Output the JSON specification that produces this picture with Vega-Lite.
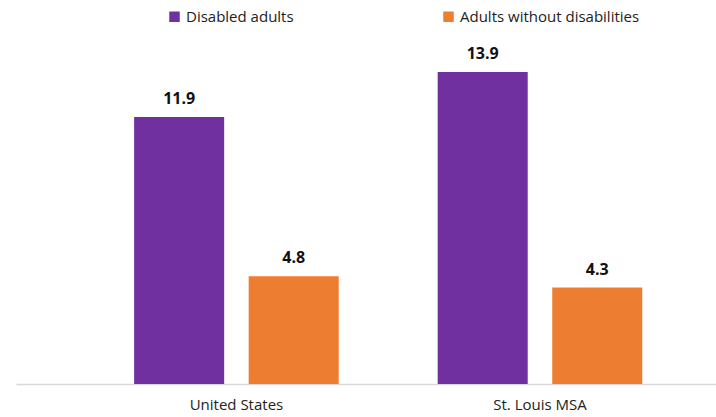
{
  "$schema": "https://vega.github.io/schema/vega-lite/v6.json",
  "autosize": {"type": "none"},
  "width": 700,
  "height": 359,
  "padding": {"left": 16, "top": 25, "right": 0, "bottom": 33},
  "background": "white",
  "config": {"view": {"stroke": null}, "font": "Open Sans"},
  "data": {
    "values": [
      {"region": "United States", "group": "Disabled adults", "value": 11.9},
      {"region": "United States", "group": "Adults without disabilities", "value": 4.8},
      {"region": "St. Louis MSA", "group": "Disabled adults", "value": 13.9},
      {"region": "St. Louis MSA", "group": "Adults without disabilities", "value": 4.3}
    ]
  },
  "encoding": {
    "x": {
      "field": "region", "type": "nominal", "sort": ["United States", "St. Louis MSA"],
      "scale": {"paddingInner": 0, "paddingOuter": 0.153, "align": 0.739},
      "axis": {"title": null, "labelAngle": 0, "ticks": false, "domainColor": "#d9d9d9", "domainWidth": 1.5, "labelFont": "Open Sans", "labelFontSize": 15, "labelColor": "#222222", "labelPadding": 13}
    },
    "xOffset": {
      "field": "group", "type": "nominal", "sort": ["Disabled adults", "Adults without disabilities"],
      "scale": {"paddingInner": 0.214, "paddingOuter": 0.432}
    },
    "y": {
      "field": "value", "type": "quantitative",
      "scale": {"domain": [0, 16]},
      "axis": null
    }
  },
  "layer": [
    {
      "mark": {"type": "bar"},
      "encoding": {
        "color": {
          "field": "group", "type": "nominal",
          "sort": ["Disabled adults", "Adults without disabilities"],
          "scale": {"domain": ["Disabled adults", "Adults without disabilities"], "range": ["#7030A0", "#ED7D31"]},
          "legend": {
            "title": null, "orient": "none", "direction": "horizontal", "legendX": 151, "legendY": -16,
            "symbolType": "square", "symbolSize": 110, "symbolStrokeWidth": 0, "symbolOpacity": 1,
            "labelFont": "Open Sans", "labelFontSize": 15, "labelColor": "#222222", "labelOffset": 4, "labelLimit": 400,
            "columnPadding": 147
          }
        }
      }
    },
    {
      "mark": {"type": "text", "baseline": "bottom", "dy": -10, "fontWeight": "bold", "fontSize": 16, "font": "Open Sans", "color": "#111111"},
      "encoding": {
        "text": {"field": "value", "type": "quantitative", "format": ".1f"}
      }
    }
  ]
}
